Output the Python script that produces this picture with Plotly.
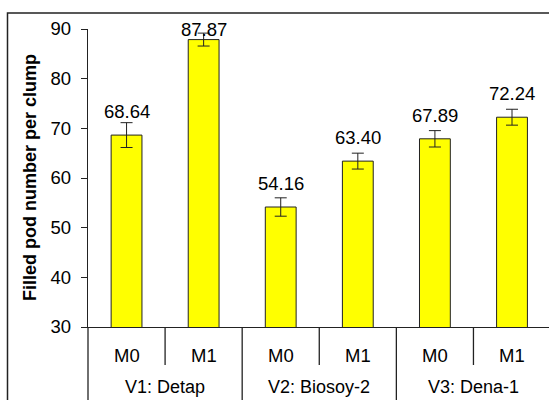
import plotly.graph_objects as go

# Filled pod number per clump by variety (V) and treatment (M)
varieties = ["V1: Detap", "V2: Biosoy-2", "V3: Dena-1"]
treatments = ["M0", "M1"]
values = [68.64, 87.87, 54.16, 63.40, 67.89, 72.24]
errors = [2.5, 1.3, 1.85, 1.6, 1.65, 1.6]
y_ticks = [30, 40, 50, 60, 70, 80, 90]

FONT = "Arial, Liberation Sans, sans-serif"
LINE = "#222222"
W, H = 549, 400
ML, MR, MT, MB = 88, 0, 29, 73
Y_MIN, Y_MAX = 30, 90

xs = list(range(len(values)))
cat_labels = [t for _ in varieties for t in treatments]

fig = go.Figure()
fig.add_trace(go.Bar(
    x=xs, y=values, base=0, width=0.4,
    marker=dict(color="#FFFF00", line=dict(color=LINE, width=1)),
    error_y=dict(type="data", array=errors, visible=True,
                 color=LINE, thickness=1, width=6),
    hoverinfo="skip", showlegend=False,
))

ann = []
# value labels above each bar, kept inside the top of the value axis
for x, v in zip(xs, values):
    ann.append(dict(x=x, y=min(v + 4.7, Y_MAX), xref="x", yref="y",
                    text=f"{v:.2f}", showarrow=False, yanchor="middle",
                    font=dict(family=FONT, size=18.5, color="black")))

plot_h = H - MT - MB
plot_w = W - ML - MR

def py(px_from_axis):
    # pixel offset below the x axis -> paper y
    return -px_from_axis / plot_h

# treatment labels
for x, lab in zip(xs, cat_labels):
    ann.append(dict(x=x, y=py(28), xref="x", yref="paper", text=lab,
                    showarrow=False, yanchor="middle",
                    font=dict(family=FONT, size=18.5, color="black")))
# variety labels
for i, lab in enumerate(varieties):
    ann.append(dict(x=2 * i + 0.5, y=py(71), xref="x", yref="paper", text=lab,
                    showarrow=False, yanchor="bottom", borderpad=0,
                    font=dict(family=FONT, size=18, color="black")))
# y-axis title
ann.append(dict(x=(30 - ML) / plot_w, y=0.5, xref="paper", yref="paper",
                text="<b>Filled pod number per clump</b>", textangle=-90,
                showarrow=False, xanchor="center", yanchor="middle",
                font=dict(family=FONT, size=18, color="black")))

shapes = []
# dividers between treatments (short) and between varieties (long)
for i in range(len(values)):
    b = i + 0.5
    if i % 2 == 0:
        shapes.append(dict(type="line", xref="x", yref="paper", x0=b, x1=b,
                           y0=0, y1=py(38), line=dict(color=LINE, width=1.3)))
    else:
        shapes.append(dict(type="line", xref="x", yref="paper", x0=b, x1=b,
                           y0=0, y1=py(90), line=dict(color=LINE, width=1.3)))
shapes.append(dict(type="line", xref="paper", yref="paper", x0=0, x1=0,
                   y0=0, y1=py(90), line=dict(color=LINE, width=1.3)))
# outer frame
shapes.append(dict(type="rect", xref="paper", yref="paper",
                   x0=(7.5 - ML) / plot_w, x1=1.05,
                   y0=py(90), y1=(H - MB - 13) / plot_h,
                   line=dict(color=LINE, width=1.5), fillcolor="rgba(0,0,0,0)"))

fig.update_layout(
    width=W, height=H,
    margin=dict(l=ML, r=MR, t=MT, b=MB, pad=0),
    paper_bgcolor="white", plot_bgcolor="white",
    font=dict(family=FONT, size=18, color="black"),
    annotations=ann, shapes=shapes,
    xaxis=dict(range=[-0.5, 5.48], showticklabels=False, ticks="",
               showgrid=False, zeroline=False, showline=True,
               linecolor=LINE, linewidth=1.3, fixedrange=True),
    yaxis=dict(range=[Y_MIN, Y_MAX], tickvals=y_ticks, ticks="outside",
               ticklen=6, tickcolor=LINE, tickwidth=1.3,
               showgrid=False, zeroline=False, showline=True,
               linecolor=LINE, linewidth=1.3,
               tickfont=dict(family=FONT, size=18.5, color="black"),
               ticklabelstandoff=6, fixedrange=True),
)

fig.write_html("out.html")
